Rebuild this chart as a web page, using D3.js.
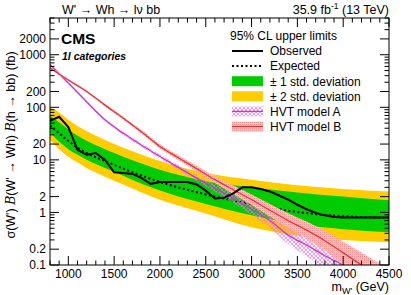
<!DOCTYPE html>
<html><head><meta charset="utf-8">
<script src="https://cdn.jsdelivr.net/npm/d3@7"></script>
<style>
body{margin:0;background:#fff}
text{font-family:"Liberation Sans",Arial,sans-serif;fill:#000}
</style>
</head><body><script>
// limits vs W' mass (GeV), values in fb
var bandMass = [800, 900, 1000, 1100, 1200, 1400, 1600, 1800, 2000, 2200, 2500, 3000, 3500, 4000, 4500];
var expected = [45, 32, 23, 17, 13.5, 9.5, 6.8, 5.0, 3.8, 3.0, 2.2, 1.45, 1.02, 0.85, 0.79];
var up2 = [100, 80, 58, 44, 35, 24, 17, 12.5, 9.5, 7.5, 5.6, 4.2, 3.3, 2.8, 2.5];
var up1 = [68, 52, 38, 29, 23, 16, 11.5, 8.5, 6.5, 5.2, 3.9, 3.0, 2.4, 2.0, 1.7];
var dn1 = [33, 22, 16, 12.5, 10, 7, 5, 3.5, 2.6, 2.0, 1.45, 0.88, 0.6, 0.48, 0.42];
var dn2 = [24, 16, 11.5, 9, 7, 4.8, 3.4, 2.4, 1.75, 1.35, 0.95, 0.52, 0.36, 0.3, 0.27];

var obsMass = [800, 900, 1000, 1100, 1200, 1300, 1400, 1500, 1600, 1700, 1800, 1900, 2000, 2100, 2200, 2300, 2400, 2500, 2600, 2700, 2800, 2900, 3000, 3100, 3200, 3300, 3400, 3500, 3600, 3700, 3800, 3900, 4000, 4500];
var observed = [55, 66, 42, 15.5, 12.5, 13.5, 10, 5.8, 5.6, 5.4, 4.5, 3.5, 3.8, 3.8, 3.8, 3.8, 3.4, 2.6, 1.85, 1.9, 2.3, 3.0, 3.0, 2.8, 2.5, 2.1, 1.75, 1.4, 1.15, 0.98, 0.88, 0.82, 0.8, 0.8];

var hvtMass = [800, 1000, 1200, 1400, 1600, 1800, 2000, 2200, 2400, 2600, 2800, 3000, 3200, 3400, 3600, 3800, 4000, 4200, 4400, 4500];
var hvtA = [650, 290, 128, 58, 32, 19, 11.6, 7.2, 4.5, 2.9, 1.85, 1.15, 0.7, 0.37, 0.24, 0.15, 0.1, 0.065, 0.042, 0.035];
var hvtB = [560, 330, 200, 110, 62, 34, 18, 11, 6.8, 4.2, 2.7, 1.75, 1.1, 0.7, 0.46, 0.29, 0.17, 0.1, 0.06, 0.045];
// theory uncertainty, in decades
var hvtAUnc = [0.02, 0.02, 0.02, 0.025, 0.03, 0.035, 0.04, 0.045, 0.055, 0.07, 0.09, 0.11, 0.14, 0.17, 0.21, 0.25, 0.3, 0.32, 0.34, 0.35];
var hvtBUnc = [0.02, 0.02, 0.02, 0.025, 0.03, 0.035, 0.04, 0.045, 0.055, 0.065, 0.08, 0.1, 0.12, 0.14, 0.165, 0.19, 0.215, 0.24, 0.25, 0.25];

var xTicks = [1000, 1500, 2000, 2500, 3000, 3500, 4000, 4500];
var yTicks = [0.1, 0.2, 1, 2, 10, 20, 100, 200, 1000, 2000];

var W = 411, H = 295;
var pLeft = 50, pRight = 389, pTop = 18, pBottom = 265;

var svg = d3.select("body").append("svg")
    .attr("width", W).attr("height", H);

var defs = svg.append("defs");
defs.append("clipPath").attr("id", "clip")
    .append("rect").attr("x", pLeft).attr("y", pTop)
    .attr("width", pRight - pLeft).attr("height", pBottom - pTop);

var pa = defs.append("pattern").attr("id", "hatchA")
    .attr("patternUnits", "userSpaceOnUse").attr("width", 4).attr("height", 4);
pa.append("path").attr("d", "M0,0L4,4M4,0L0,4")
    .attr("stroke", "#f070f0").attr("stroke-width", 0.7);
var pb = defs.append("pattern").attr("id", "dotB")
    .attr("patternUnits", "userSpaceOnUse").attr("width", 2).attr("height", 2);
pb.append("rect").attr("width", 2).attr("height", 2).attr("fill", "#ffc8c8");
pb.append("rect").attr("width", 1).attr("height", 1).attr("fill", "#ff8c8c");

var x = d3.scaleLinear().domain([800, 4500]).range([pLeft, pRight]);
var y = d3.scaleLog().domain([0.1, 5000]).range([pBottom, pTop]);

var plot = svg.append("g").attr("clip-path", "url(#clip)");

function band(lo, hi, fill) {
    var area = d3.area()
        .x(function(d, i) { return x(bandMass[i]); })
        .y0(function(d, i) { return y(lo[i]); })
        .y1(function(d, i) { return y(hi[i]); })
        .curve(d3.curveMonotoneX);
    plot.append("path").datum(bandMass).attr("d", area).attr("fill", fill);
}
band(dn2, up2, "#ffcc00");
band(dn1, up1, "#00cc00");

plot.append("path").datum(expected)
    .attr("d", d3.line()
        .x(function(d, i) { return x(bandMass[i]); })
        .y(function(d) { return y(d); })
        .curve(d3.curveMonotoneX))
    .attr("fill", "none").attr("stroke", "#000")
    .attr("stroke-width", 2).attr("stroke-dasharray", "2,2.5");

function hvt(vals, unc, fill, color) {
    var area = d3.area()
        .x(function(d, i) { return x(hvtMass[i]); })
        .y0(function(d, i) { return y(d / Math.pow(10, unc[i])); })
        .y1(function(d, i) { return y(d * Math.pow(10, unc[i])); })
        .curve(d3.curveMonotoneX);
    plot.append("path").datum(vals).attr("d", area).attr("fill", fill);
    plot.append("path").datum(vals)
        .attr("d", d3.line()
            .x(function(d, i) { return x(hvtMass[i]); })
            .y(function(d) { return y(d); })
            .curve(d3.curveMonotoneX))
        .attr("fill", "none").attr("stroke", color).attr("stroke-width", 1.3);
}
hvt(hvtA, hvtAUnc, "url(#hatchA)", "#cc33cc");
hvt(hvtB, hvtBUnc, "url(#dotB)", "#d43c3c");

plot.append("path").datum(observed)
    .attr("d", d3.line()
        .x(function(d, i) { return x(obsMass[i]); })
        .y(function(d) { return y(d); }))
    .attr("fill", "none").attr("stroke", "#000").attr("stroke-width", 2);

// frame and ticks (ROOT style, inside)
svg.append("rect").attr("x", pLeft).attr("y", pTop)
    .attr("width", pRight - pLeft).attr("height", pBottom - pTop)
    .attr("fill", "none").attr("stroke", "#000").attr("stroke-width", 1);

var ticks = svg.append("g").attr("stroke", "#000").attr("stroke-width", 1);
d3.range(800, 4501, 100).forEach(function(m) {
    var len = xTicks.indexOf(m) >= 0 ? 9 : 4.5;
    ticks.append("line").attr("x1", x(m)).attr("x2", x(m))
        .attr("y1", pBottom).attr("y2", pBottom - len);
    ticks.append("line").attr("x1", x(m)).attr("x2", x(m))
        .attr("y1", pTop).attr("y2", pTop + len);
});
var yAll = [];
[0.1, 1, 10, 100, 1000].forEach(function(dec) {
    for (var k = 1; k <= 9; k++) if (dec * k <= 5000) yAll.push(dec * k);
});
yAll.forEach(function(v) {
    var major = yTicks.some(function(t) { return Math.abs(t - v) / v < 1e-6; });
    var len = major ? 9 : 4.5;
    ticks.append("line").attr("x1", pLeft).attr("x2", pLeft + len)
        .attr("y1", y(v)).attr("y2", y(v));
    ticks.append("line").attr("x1", pRight).attr("x2", pRight - len)
        .attr("y1", y(v)).attr("y2", y(v));
});

svg.append("g").selectAll("text").data(xTicks).enter().append("text")
    .attr("x", function(d) { return x(d); }).attr("y", 278)
    .attr("text-anchor", "middle").attr("font-size", 12)
    .text(function(d) { return d; });
svg.append("g").selectAll("text").data(yTicks).enter().append("text")
    .attr("x", 46).attr("y", function(d) { return y(d); }).attr("dy", "0.35em")
    .attr("text-anchor", "end").attr("font-size", 12)
    .text(function(d) { return d; });

// axis titles
var xt = svg.append("text").attr("x", 389).attr("y", 291)
    .attr("text-anchor", "end").attr("font-size", 12.5);
xt.append("tspan").text("m");
xt.append("tspan").attr("font-size", 9).attr("dy", 3).text("W'");
xt.append("tspan").attr("dy", -3).text(" (GeV)");

var yt = svg.append("text").attr("transform", "translate(15,145) rotate(-90)")
    .attr("text-anchor", "middle").attr("font-size", 12.5);
yt.append("tspan").text("σ(W') ");
yt.append("tspan").attr("font-style", "italic").attr("font-family", "DejaVu Serif").text("B");
yt.append("tspan").text("(W' → Wh) ");
yt.append("tspan").attr("font-style", "italic").attr("font-family", "DejaVu Serif").text("B");
yt.append("tspan").text("(h → bb) (fb)");

// header
svg.append("text").attr("x", 62).attr("y", 14).attr("font-size", 12.5)
    .text("W' → Wh → lν bb");
var lumi = svg.append("text").attr("x", 389).attr("y", 14)
    .attr("text-anchor", "end").attr("font-size", 12.5);
lumi.append("tspan").text("35.9 fb");
lumi.append("tspan").attr("font-size", 8.5).attr("dy", -5).text("-1");
lumi.append("tspan").attr("dy", 5).text(" (13 TeV)");

svg.append("text").attr("x", 61).attr("y", 43.5)
    .attr("font-size", 15.5).attr("font-weight", "bold").text("CMS");
svg.append("text").attr("x", 62).attr("y", 60)
    .attr("font-size", 10.5).attr("font-weight", "bold").attr("font-style", "italic")
    .text("1l categories");

// legend
var lx = 232, lw = 31, tx = 270;
svg.append("text").attr("x", 230).attr("y", 40).attr("font-size", 12)
    .text("95% CL upper limits");
var entries = [
    {label: "Observed", kind: "obs"},
    {label: "Expected", kind: "exp"},
    {label: "± 1 std. deviation", kind: "g"},
    {label: "± 2 std. deviation", kind: "y"},
    {label: "HVT model A", kind: "A"},
    {label: "HVT model B", kind: "B"}
];
var leg = svg.append("g");
entries.forEach(function(e, i) {
    var cy = 51 + i * 15.1;
    if (e.kind === "obs" || e.kind === "exp") {
        leg.append("line").attr("x1", lx).attr("x2", lx + lw)
            .attr("y1", cy).attr("y2", cy).attr("stroke", "#000").attr("stroke-width", 2)
            .attr("stroke-dasharray", e.kind === "exp" ? "2,2.5" : null);
    } else if (e.kind === "g" || e.kind === "y") {
        leg.append("rect").attr("x", lx).attr("y", cy - 5).attr("width", lw).attr("height", 10)
            .attr("fill", e.kind === "g" ? "#00cc00" : "#ffcc00");
    } else {
        leg.append("rect").attr("x", lx).attr("y", cy - 5).attr("width", lw).attr("height", 10)
            .attr("fill", e.kind === "A" ? "url(#hatchA)" : "url(#dotB)");
        leg.append("line").attr("x1", lx).attr("x2", lx + lw)
            .attr("y1", cy).attr("y2", cy).attr("stroke-width", 1.3)
            .attr("stroke", e.kind === "A" ? "#cc33cc" : "#d43c3c");
    }
    leg.append("text").attr("x", tx).attr("y", cy).attr("dy", "0.36em")
        .attr("font-size", 12).text(e.label);
});
</script></body></html>
